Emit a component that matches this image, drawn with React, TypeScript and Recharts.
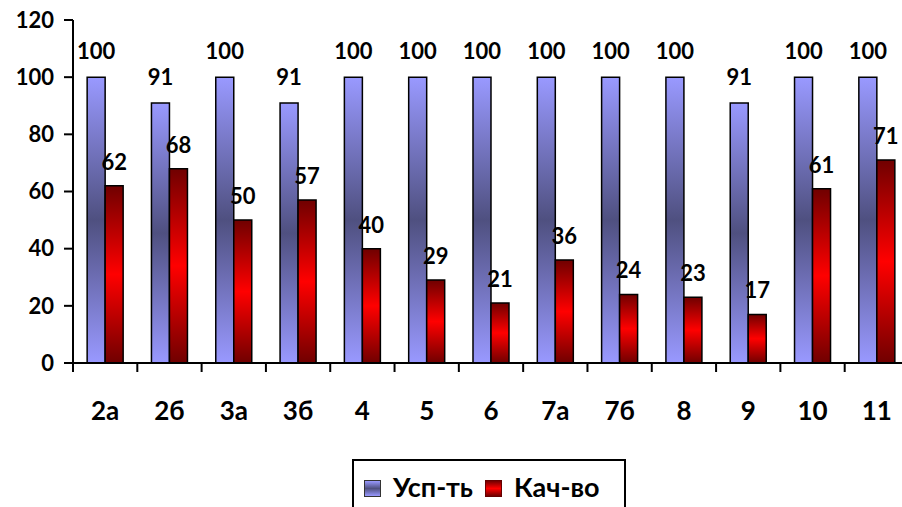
import { BarChart, Bar, XAxis, YAxis, LabelList } from "recharts";

const classes = ["2а", "2б", "3а", "3б", "4", "5", "6", "7а", "7б", "8", "9", "10", "11"];
const uspValues = [100, 91, 100, 91, 100, 100, 100, 100, 100, 100, 91, 100, 100];
const kachValues = [62, 68, 50, 57, 40, 29, 21, 36, 24, 23, 17, 61, 71];
const yTicks = [0, 20, 40, 60, 80, 100, 120];

const data = classes.map((name, i) => ({
  name,
  usp: uspValues[i],
  kach: kachValues[i],
}));

const FONT = "Lato, 'Open Sans', sans-serif";
const BAND = 64.3;

function XTick(props: any) {
  const { x, y, payload, index } = props;
  const left = x - BAND / 2;
  return (
    <g>
      <line x1={left} y1={y - 8} x2={left} y2={y + 1} stroke="#000" strokeWidth={2} />
      {index === classes.length - 1 && (
        <line x1={left + BAND} y1={y - 8} x2={left + BAND} y2={y + 1} stroke="#000" strokeWidth={2} />
      )}
      <text
        x={x}
        y={y + 49}
        textAnchor="middle"
        fontFamily={FONT}
        fontWeight="bold"
        fontSize={26}
        fill="#000"
      >
        {payload.value}
      </text>
    </g>
  );
}

function LegendBox() {
  return (
    <div
      style={{
        position: "absolute",
        left: 352,
        top: 459,
        border: "2px solid #000",
        width: 274,
        height: 60,
        boxSizing: "border-box",
        display: "flex",
        alignItems: "flex-start",
        paddingTop: 11,
        paddingLeft: 10,
        fontFamily: FONT,
        fontWeight: "bold",
        fontSize: 27,
        color: "#000",
      }}
    >
      <span
        style={{
          width: 15,
          height: 15,
          marginTop: 8,
          marginRight: 12,
          border: "1px solid #333",
          background: "linear-gradient(#9999ff, #4f5080, #9999ff)",
        }}
      />
      <span style={{ lineHeight: "30px" }}>Усп-ть</span>
      <span
        style={{
          width: 15,
          height: 15,
          marginTop: 8,
          marginLeft: 12,
          marginRight: 12,
          border: "1px solid #600",
          background: "linear-gradient(#700000, #ff0000, #700000)",
        }}
      />
      <span style={{ lineHeight: "30px" }}>Кач-во</span>
    </div>
  );
}

export default function App() {
  return (
    <div style={{ position: "absolute", left: 0, top: 0, width: 902, height: 507, overflow: "hidden", background: "#fff" }}>
      <BarChart
        width={920}
        height={507}
        data={data}
        margin={{ top: 20, right: 11, left: 0, bottom: 84 }}
        barCategoryGap="22%"
        barGap={0}
      >
        <defs>
          <linearGradient id="gradUsp" x1="0" y1="0" x2="0" y2="1">
            <stop offset="0%" stopColor="#9999ff" />
            <stop offset="50%" stopColor="#4f5080" />
            <stop offset="100%" stopColor="#9999ff" />
          </linearGradient>
          <linearGradient id="gradKach" x1="0" y1="0" x2="0" y2="1">
            <stop offset="0%" stopColor="#700000" />
            <stop offset="50%" stopColor="#ff0000" />
            <stop offset="100%" stopColor="#700000" />
          </linearGradient>
        </defs>
        <XAxis
          dataKey="name"
          height={60}
          interval={0}
          tickLine={false}
          axisLine={{ stroke: "#000", strokeWidth: 2 }}
          tick={<XTick />}
        />
        <YAxis
          width={73}
          domain={[0, 120]}
          ticks={yTicks}
          interval={0}
          tickSize={9}
          tickMargin={10}
          axisLine={{ stroke: "#000", strokeWidth: 2 }}
          tickLine={{ stroke: "#000", strokeWidth: 2 }}
          tick={{ fill: "#000", fontFamily: FONT, fontWeight: "bold", fontSize: 22 }}
        />
        <Bar dataKey="usp" name="Усп-ть" fill="url(#gradUsp)" stroke="#000" strokeWidth={1.5} isAnimationActive={false}>
          <LabelList
            dataKey="usp"
            position="top"
            offset={18}
            fill="#000"
            fontFamily={FONT}
            fontWeight="bold"
            fontSize={22}
          />
        </Bar>
        <Bar dataKey="kach" name="Кач-во" fill="url(#gradKach)" stroke="#000" strokeWidth={1.5} isAnimationActive={false}>
          <LabelList
            dataKey="kach"
            position="top"
            offset={16}
            fill="#000"
            fontFamily={FONT}
            fontWeight="bold"
            fontSize={22}
          />
        </Bar>
      </BarChart>
      <LegendBox />
    </div>
  );
}
